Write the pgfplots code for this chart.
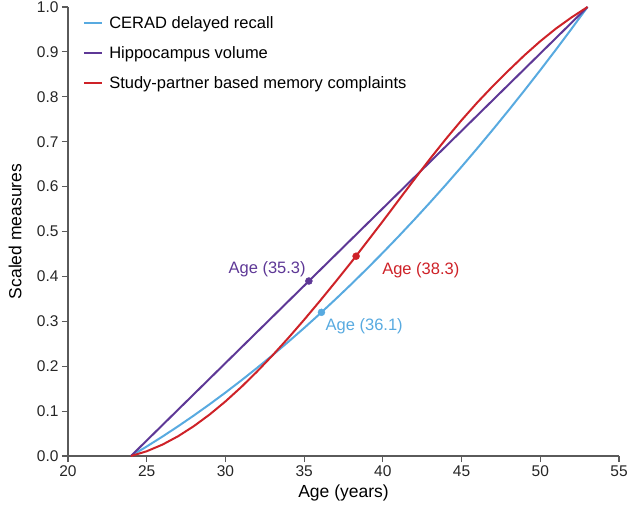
\documentclass[border=0pt]{standalone}
\usepackage{fontspec}
\setmainfont{Liberation Sans}
\usepackage{pgfplots}
\pgfplotsset{compat=1.18}
\usetikzlibrary{calc}
\definecolor{cblue}{RGB}{88,170,224}
\definecolor{cpurple}{RGB}{94,56,150}
\definecolor{cred}{RGB}{206,34,40}
\definecolor{axgray}{RGB}{90,90,90}
\begin{document}
\begin{tikzpicture}
\begin{axis}[name=ax, scale only axis, width=551pt, height=449pt,
  xmin=20, xmax=55, ymin=0, ymax=1,
  axis lines=left, axis line style={-, draw=axgray, line width=1.1pt},
  xtick={20,25,30,35,40,45,50,55},
  ytick={0,0.1,0.2,0.3,0.4,0.5,0.6,0.7,0.8,0.9,1.0},
  yticklabel style={/pgf/number format/.cd, fixed, fixed zerofill, precision=1},
  /pgf/number format/assume math mode=true,
  tick align=outside, major tick length=6pt,
  tick style={draw=axgray, line width=1.1pt},
  ticklabel style={font=\fontsize{15.5}{18}\selectfont, text=black!85},
  xlabel={Age (years)}, ylabel={Scaled measures},
  xlabel style={at={(axis description cs:0.5,-0.0935)}, anchor=base, font=\fontsize{17.5}{20}\selectfont},
  ylabel style={at={(axis description cs:-0.096,0.5)}, anchor=center, font=\fontsize{17.5}{20}\selectfont},
  clip=false,
  legend style={at={(axis description cs:0.0265,0.984)}, anchor=north west, draw=none, fill=none,
    font=\fontsize{16.5}{19}\selectfont, row sep=12.5pt, inner sep=0pt},
  legend cell align=left,
  legend image code/.code={\draw[#1, line width=2pt] (0pt,0pt) -- (18pt,0pt); \path (22.5pt,0pt);},
]
\addplot[cblue, line width=2pt] coordinates {
(24,0) (25,0.02117) (26,0.04328) (27,0.06635) (28,0.09037) (29,0.11534) (30,0.14126)
(31,0.16814) (32,0.19596) (33,0.22474) (34,0.25446) (35,0.28514) (36,0.31677)
(37,0.34935) (38,0.38288) (39,0.41736) (40,0.45279) (41,0.48918) (42,0.52651)
(43,0.56480) (44,0.60404) (45,0.64423) (46,0.68537) (47,0.72747) (48,0.77051)
(49,0.81451) (50,0.85945) (51,0.90535) (52,0.95220) (53,1)};
\addlegendentry{CERAD delayed recall}
\addplot[cpurple, line width=2pt] coordinates {(24,0) (53,1)};
\addlegendentry{Hippocampus volume}
\addplot[cred, line width=2pt] coordinates {
(24,0) (25,0.01057) (26,0.02538) (27,0.04417) (28,0.06665) (29,0.09252) (30,0.12152)
(31,0.15336) (32,0.18776) (33,0.22443) (34,0.26309) (35,0.30346) (36,0.34526)
(37,0.38819) (38,0.43199) (39,0.4774) (40,0.5230) (41,0.5697) (42,0.6161)
(43,0.6620) (44,0.7060) (45,0.7479) (46,0.7874) (47,0.8243) (48,0.8591)
(49,0.8927) (50,0.9238) (51,0.9521) (52,0.9772) (53,1)};
\addlegendentry{Study-partner based memory complaints}
\addplot[only marks, mark=*, mark size=3.5pt, cpurple, forget plot] coordinates {(35.3,0.3897)}
  node[anchor=east, inner sep=0pt, xshift=-3pt, yshift=12pt, font=\fontsize{16.5}{19}\selectfont, text=cpurple] {Age (35.3)};
\addplot[only marks, mark=*, mark size=3.5pt, cblue, forget plot] coordinates {(36.1,0.32)}
  node[anchor=west, inner sep=0pt, xshift=4pt, yshift=-14pt, font=\fontsize{16.5}{19}\selectfont, text=cblue] {Age (36.1)};
\addplot[only marks, mark=*, mark size=3.5pt, cred, forget plot] coordinates {(38.3,0.445)}
  node[anchor=west, inner sep=0pt, xshift=26pt, yshift=-14pt, font=\fontsize{16.5}{19}\selectfont, text=cred] {Age (38.3)};
\end{axis}
\pgfresetboundingbox
\path[use as bounding box] ($(ax.south west)+(-68pt,-48pt)$) rectangle ($(ax.north east)+(11pt,7pt)$);
\end{tikzpicture}
\end{document}
